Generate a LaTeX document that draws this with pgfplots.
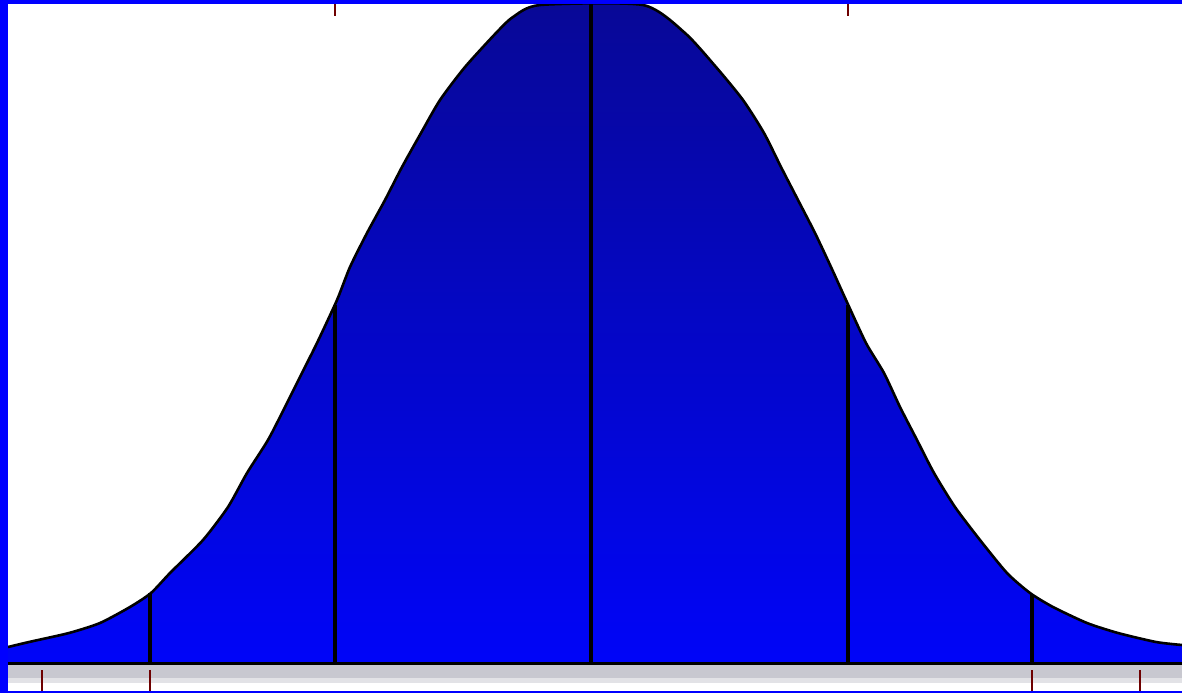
\documentclass[border=0pt]{standalone}
\usepackage{pgfplots}
\pgfplotsset{compat=1.18}
\definecolor{frameblue}{RGB}{0,0,255}
\definecolor{fillTop}{RGB}{8,8,150}
\definecolor{fillBot}{RGB}{0,5,248}
\definecolor{stripgray}{RGB}{200,200,208}
\definecolor{stripgray2}{RGB}{226,226,230}
\definecolor{tickred}{RGB}{110,0,0}
\begin{document}
\begin{tikzpicture}
\begin{axis}[
    scale only axis,
    width=591pt,
    height=346.5pt,
    xmin=0, xmax=1182,
    ymin=-30, ymax=663,
    axis lines=none,
    xtick=\empty, ytick=\empty,
    unbounded coords=jump,
]
% strip under the baseline
\fill[stripgray] (axis cs:0,-2) rectangle (axis cs:1182,-15);
\fill[stripgray2] (axis cs:0,-15) rectangle (axis cs:1182,-20);

% filled curve (x in px, height above the baseline)
\addplot[draw=none, smooth, tension=0.4, top color=fillTop, bottom color=fillBot] coordinates {
    (8,16) (29,21) (69,30) (100,40) (130,56) (151,70) (170,90) (203,123)
    (228,156) (247,190) (268,223) (285,256) (302,290) (317,320) (337,363)
    (350,396) (367,430) (385,463) (402,496) (421,530) (440,563) (465,596)
    (496,630) (513,646) (540,658) (643,658) (685,630) (716,596) (743,563)
    (764,530) (781,496) (798,463) (815,430) (831,396) (846,363) (866,320)
    (884,290) (900,256) (917,223) (934,190) (955,156) (980,123) (1007,90)
    (1030,70) (1053,56) (1087,40) (1118,30) (1156,21) (1182,18)
} \closedcycle;
\addplot[black, line width=1.3pt, smooth, tension=0.4] coordinates {
    (8,16) (29,21) (69,30) (100,40) (130,56) (151,70) (170,90) (203,123)
    (228,156) (247,190) (268,223) (285,256) (302,290) (317,320) (337,363)
    (350,396) (367,430) (385,463) (402,496) (421,530) (440,563) (465,596)
    (496,630) (513,646) (540,658) (643,658) (685,630) (716,596) (743,563)
    (764,530) (781,496) (798,463) (815,430) (831,396) (846,363) (866,320)
    (884,290) (900,256) (917,223) (934,190) (955,156) (980,123) (1007,90)
    (1030,70) (1053,56) (1087,40) (1118,30) (1156,21) (1182,18)
};

% vertical lines under the curve
\addplot[black, line width=1.6pt] coordinates {
    (150,0) (150,70) (nan,nan)
    (335,0) (335,358) (nan,nan)
    (591,0) (591,660) (nan,nan)
    (848,0) (848,358) (nan,nan)
    (1032,0) (1032,69)
};

% baseline
\addplot[black, line width=1.6pt] coordinates {(8,-0.5) (1182,-0.5)};

% red ticks
\addplot[tickred, line width=1.4pt] coordinates {
    (42,-7) (42,-28) (nan,nan)
    (150,-7) (150,-28) (nan,nan)
    (1032,-7) (1032,-28) (nan,nan)
    (1140,-7) (1140,-28) (nan,nan)
    (335,663) (335,647) (nan,nan)
    (848,663) (848,647)
};

% blue frame
\fill[frameblue] (axis cs:0,-30) rectangle (axis cs:8,663);
\fill[frameblue] (axis cs:0,659) rectangle (axis cs:1182,663);
\fill[frameblue] (axis cs:0,-28) rectangle (axis cs:1182,-30);
\end{axis}
\end{tikzpicture}
\end{document}
